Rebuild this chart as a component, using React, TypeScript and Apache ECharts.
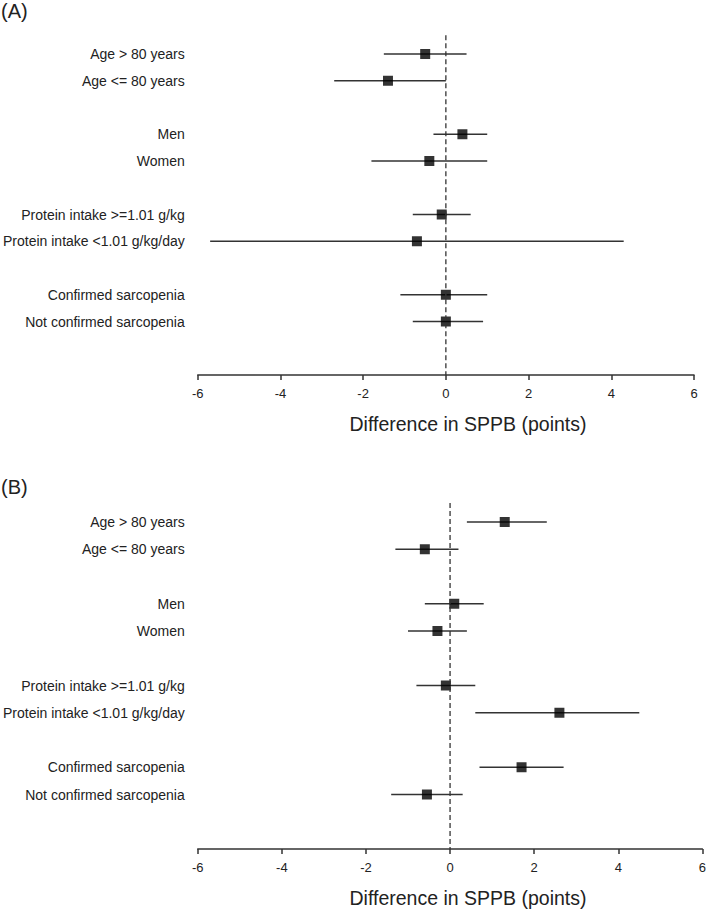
import React, { useEffect, useRef } from "react";
import * as echarts from "echarts";

const subgroups = [
  "Age > 80 years",
  "Age <= 80 years",
  "Men",
  "Women",
  "Protein intake >=1.01 g/kg",
  "Protein intake <1.01 g/kg/day",
  "Confirmed sarcopenia",
  "Not confirmed sarcopenia",
];
const rowIndex = [0, 1, 3, 4, 6, 7, 9, 10];

const estA = [-0.5, -1.4, 0.4, -0.4, -0.1, -0.7, 0.0, 0.0];
const loA = [-1.5, -2.7, -0.3, -1.8, -0.8, -5.7, -1.1, -0.8];
const hiA = [0.5, 0.0, 1.0, 1.0, 0.6, 4.3, 1.0, 0.9];

const estB = [1.3, -0.6, 0.1, -0.3, -0.1, 2.6, 1.7, -0.55];
const loB = [0.4, -1.3, -0.6, -1.0, -0.8, 0.6, 0.7, -1.4];
const hiB = [2.3, 0.2, 0.8, 0.4, 0.6, 4.5, 2.7, 0.3];

const xTicks = [-6, -4, -2, 0, 2, 4, 6];
const panelLabels = ["(A)", "(B)"];
const xTitle = "Difference in SPPB (points)";

const FONT = "Liberation Sans, Arial, sans-serif";
const TEXT = "#222";
const LINE = "#333";

export default function App() {
  const ref = useRef<HTMLDivElement>(null);
  useEffect(() => {
    const chart = echarts.init(ref.current!, null, { renderer: "svg" });
    const grids = [
      { left: 197, width: 497, top: 27.25, height: 347.75 },
      { left: 197, width: 506, top: 494.75, height: 354.25 },
    ];
    const panels = [
      { est: estA, lo: loA, hi: hiA },
      { est: estB, lo: loB, hi: hiB },
    ];
    const xAxes = grids.map((_, i) => ({
      type: "value",
      gridIndex: i,
      min: xTicks[0],
      max: xTicks[xTicks.length - 1],
      interval: 2,
      splitLine: { show: false },
      axisLine: { show: true, onZero: false, lineStyle: { color: LINE, width: 1.5 } },
      axisTick: { show: true, length: 5, lineStyle: { color: LINE, width: 1.5 } },
      axisLabel: { color: TEXT, fontSize: 13, fontFamily: FONT, margin: 12 },
    }));
    const yAxes = grids.map((_, i) => ({
      type: "value",
      gridIndex: i,
      min: -1,
      max: 12,
      interval: 1,
      inverse: true,
      splitLine: { show: false },
      axisLine: { show: false },
      axisTick: { show: false },
      axisLabel: {
        color: TEXT,
        fontSize: 14,
        fontFamily: FONT,
        margin: 13,
        formatter: (v: number) => {
          const k = rowIndex.indexOf(v);
          return k >= 0 ? subgroups[k] : "";
        },
      },
    }));
    const series: any[] = [];
    panels.forEach((p, i) => {
      series.push({
        type: "line",
        xAxisIndex: i,
        yAxisIndex: i,
        data: [
          [0, -0.7],
          [0, 12],
        ],
        symbol: "none",
        lineStyle: { color: LINE, width: 1.3, type: [5, 3] },
        silent: true,
      });
      series.push({
        type: "custom",
        xAxisIndex: i,
        yAxisIndex: i,
        data: p.est.map((_, k) => [p.lo[k], p.hi[k], rowIndex[k]]),
        renderItem: (params: any, api: any) => {
          const a = api.coord([api.value(0), api.value(2)]);
          const b = api.coord([api.value(1), api.value(2)]);
          return {
            type: "line",
            shape: { x1: a[0], y1: a[1], x2: b[0], y2: b[1] },
            style: { stroke: LINE, lineWidth: 1.6 },
          };
        },
        silent: true,
      });
      series.push({
        type: "scatter",
        xAxisIndex: i,
        yAxisIndex: i,
        data: p.est.map((v, k) => [v, rowIndex[k]]),
        symbol: "rect",
        symbolSize: 10,
        itemStyle: { color: "#000" },
        silent: true,
      });
    });
    const titleTexts = grids.map((g) => ({
      type: "text",
      x: 468,
      y: g.top + g.height + 49,
      style: {
        text: xTitle,
        fill: TEXT,
        fontSize: 19.5,
        fontFamily: FONT,
        textAlign: "center",
        textVerticalAlign: "middle",
      },
    }));
    chart.setOption({
      animation: false,
      backgroundColor: "#fff",
      grid: grids,
      xAxis: xAxes,
      yAxis: yAxes,
      series,
      graphic: [
        {
          type: "text",
          left: 1,
          top: 1,
          style: { text: panelLabels[0], fill: TEXT, fontSize: 20, fontFamily: FONT },
        },
        {
          type: "text",
          left: 1,
          top: 477,
          style: { text: panelLabels[1], fill: TEXT, fontSize: 20, fontFamily: FONT },
        },
        ...titleTexts,
      ],
    });
    return () => chart.dispose();
  }, []);
  return (
    <div
      ref={ref}
      style={{ position: "absolute", left: 0, top: 0, width: 709, height: 910 }}
    />
  );
}
